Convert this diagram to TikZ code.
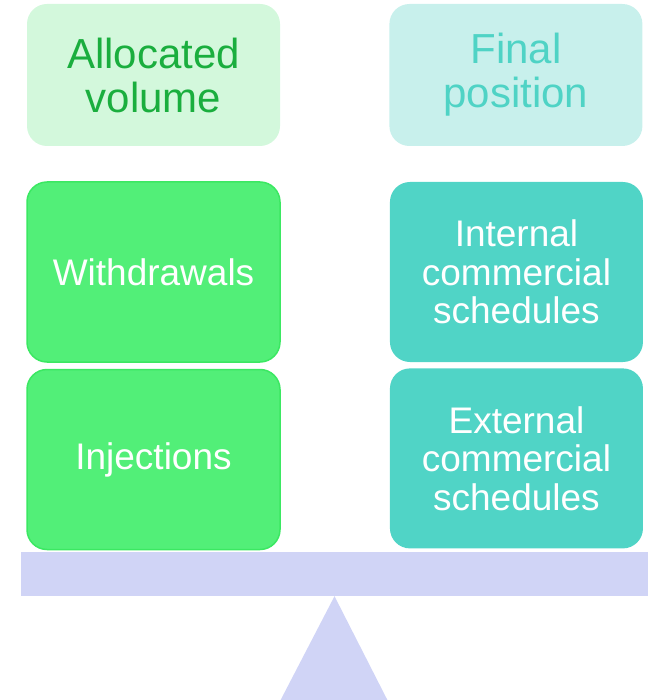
\documentclass[tikz,border=0pt]{standalone}
\usepackage{fontspec}
\setmainfont{Liberation Sans}
\usetikzlibrary{positioning}
\definecolor{allocfill}{HTML}{D3F8DC}
\definecolor{alloctext}{HTML}{1AAE3E}
\definecolor{finalfill}{HTML}{C8F0EC}
\definecolor{finaltext}{HTML}{4FD3C5}
\definecolor{greenbox}{HTML}{52EF78}
\definecolor{greenline}{HTML}{3BE862}
\definecolor{tealbox}{HTML}{50D4C6}
\definecolor{beamcol}{HTML}{D0D4F6}

\begin{document}
\begin{tikzpicture}[x=1pt, y=-1pt,
	box/.style={rectangle, rounded corners=20pt, minimum width=253pt, align=center, inner sep=0pt},
	head/.style={box, minimum height=142pt, font=\fontsize{42}{44}\selectfont},
	item/.style={box, minimum height=180pt, text=white, font=\fontsize{37}{38.5}\selectfont}]
	\useasboundingbox (0,0) rectangle (651,700);

	\node[head, fill=allocfill, text=alloctext] (alloc) at (153.5,75) {Allocated\\volume};
	\node[head, fill=finalfill, text=finaltext, right=109pt of alloc] (final) {Final\\position};

	\node[item, fill=greenbox, draw=greenline, line width=1.5pt] (withdr) at (153.5,272) {Withdrawals};
	\node[item, fill=greenbox, draw=greenline, line width=1.5pt, below=6pt of withdr] (inject) {Injections};
	\node[item, fill=tealbox, right=109pt of withdr] (internal) {Internal\\commercial\\schedules};
	\node[item, fill=tealbox, below=6pt of internal] (external) {External\\commercial\\schedules};

	% balance
	\node[rectangle, fill=beamcol, minimum width=627pt, minimum height=44pt, inner sep=0pt] (beam) at (334.5,574) {};
	\fill[beamcol] (beam.south) -- ++(53,104) -- ++(-107,0) -- cycle;
\end{tikzpicture}
\end{document}
